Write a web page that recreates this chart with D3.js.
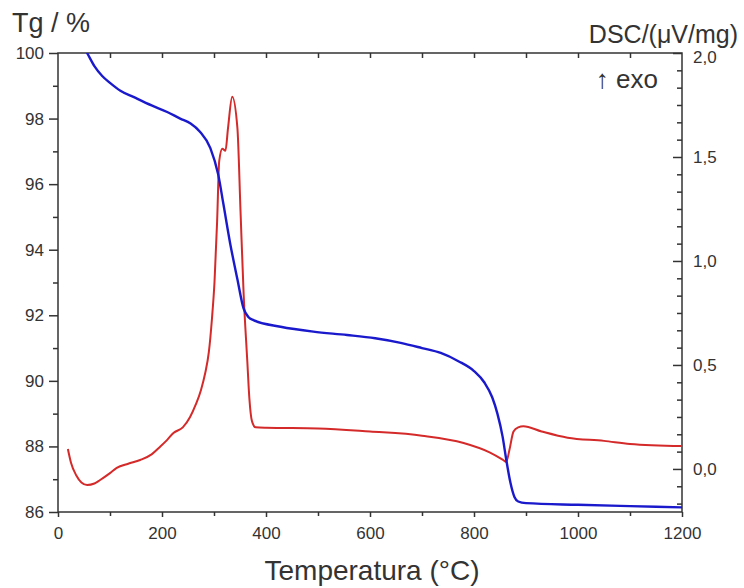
<!DOCTYPE html>
<html>
<head>
<meta charset="utf-8">
<script src="https://cdn.jsdelivr.net/npm/d3@7"></script>
<style>
  body { margin: 0; background: #fff; }
  text { font-family: "Liberation Sans", Arial, sans-serif; fill: #333; }
</style>
</head>
<body>
<div id="chart"></div>
<script>
// TG curve (left axis, %)
const tgTemp = [20, 30, 45, 56, 70, 85, 100, 120, 145, 180, 210, 235, 255, 273, 293, 308, 318, 331, 345, 357, 366, 376, 428, 491, 556, 610, 659, 700, 736, 770, 800, 820, 835, 845, 855, 862, 870, 878, 885, 900, 1000, 1100, 1200]
const tgVal = [100.9, 100.6, 100.3, 100.0, 99.6, 99.3, 99.09, 98.85, 98.66, 98.4, 98.2, 98.0, 97.85, 97.6, 97.1, 96.3, 95.4, 94.2, 93.1, 92.2, 91.95, 91.85, 91.65, 91.5, 91.4, 91.3, 91.16, 91.0, 90.85, 90.6, 90.3, 89.95, 89.5, 89.0, 88.3, 87.6, 86.9, 86.45, 86.32, 86.27, 86.22, 86.18, 86.14]

// DSC curve (right axis, µV/mg)
const dscTemp = [19, 25, 35, 45, 56, 70, 81, 100, 113, 135, 158, 180, 196, 210, 222, 240, 254, 265, 275, 283, 290, 296, 301, 306, 310, 316, 322, 327, 335, 345, 351, 357, 364, 368, 373, 380, 400, 500, 600, 700, 780, 830, 855, 862, 868, 876, 885, 895, 930, 980, 1050, 1100, 1200]
const dscVal = [0.096, 0.03, -0.03, -0.065, -0.077, -0.07, -0.053, -0.02, 0.005, 0.025, 0.043, 0.07, 0.106, 0.14, 0.173, 0.2, 0.25, 0.31, 0.38, 0.46, 0.56, 0.72, 0.9, 1.19, 1.48, 1.54, 1.53, 1.64, 1.79, 1.64, 1.24, 0.84, 0.52, 0.34, 0.23, 0.2, 0.198, 0.195, 0.18, 0.16, 0.125, 0.08, 0.045, 0.034, 0.09, 0.18, 0.2, 0.205, 0.18, 0.15, 0.135, 0.12, 0.11]

const xTicks = [0, 200, 400, 600, 800, 1000, 1200]
const leftTicks = [86, 88, 90, 92, 94, 96, 98, 100]
const rightTicks = [0.0, 0.5, 1.0, 1.5, 2.0]

const width = 744, height = 588
const margin = {top: 53, right: 62, bottom: 76, left: 58}

const svg = d3.select("#chart").append("svg")
    .attr("width", width)
    .attr("height", height)

const x = d3.scaleLinear().domain([0, 1200]).range([margin.left, width - margin.right])
const yL = d3.scaleLinear().domain([86, 100]).range([height - margin.bottom, margin.top])
const yR = d3.scaleLinear().domain([-0.207, 2.0]).range([height - margin.bottom, margin.top])

svg.append("clipPath").attr("id", "clip")
    .append("rect")
    .attr("x", margin.left).attr("y", margin.top)
    .attr("width", width - margin.left - margin.right)
    .attr("height", height - margin.top - margin.bottom)

const fmtComma = d => d3.format(".1f")(d).replace(".", ",")
const axisColor = "#333"

function styleAxis(g) {
    g.select(".domain").remove()
    g.selectAll("line").attr("stroke", axisColor).attr("stroke-width", 1.5)
    g.selectAll("text").style("font-size", "17px").attr("fill", "#333")
}

// minor ticks
const xMinor = d3.range(100, 1200, 200)
const leftMinor = d3.range(87, 100, 2)
const rightMinor = d3.range(-2, 24).map(i => i / 12).filter(v => v >= -0.207 && v <= 2.0 && Math.abs(v * 2 - Math.round(v * 2)) > 1e-6)

// bottom axis (outward ticks)
svg.append("g").attr("transform", `translate(0,${height - margin.bottom})`)
    .call(d3.axisBottom(x).tickValues(xTicks).tickSize(5).tickPadding(10).tickFormat(d3.format("d")))
    .call(styleAxis)
svg.append("g").attr("transform", `translate(0,${height - margin.bottom})`)
    .call(d3.axisBottom(x).tickValues(xMinor).tickSize(4).tickFormat(""))
    .call(styleAxis)

// top axis (inward ticks)
svg.append("g").attr("transform", `translate(0,${margin.top})`)
    .call(d3.axisBottom(x).tickValues(d3.range(100, 1200, 100)).tickSize(5).tickFormat(""))
    .call(styleAxis)

// left axis (outward ticks)
svg.append("g").attr("transform", `translate(${margin.left},0)`)
    .call(d3.axisLeft(yL).tickValues(leftTicks).tickSize(9).tickPadding(5).tickFormat(d3.format("d")))
    .call(styleAxis)
svg.append("g").attr("transform", `translate(${margin.left},0)`)
    .call(d3.axisLeft(yL).tickValues(leftMinor).tickSize(5).tickFormat(""))
    .call(styleAxis)

// right axis (inward ticks)
svg.append("g").attr("transform", `translate(${width - margin.right},0)`)
    .call(d3.axisLeft(yR).tickValues(rightTicks).tickSize(9).tickFormat(""))
    .call(styleAxis)
svg.append("g").attr("transform", `translate(${width - margin.right},0)`)
    .call(d3.axisLeft(yR).tickValues(rightMinor).tickSize(5).tickFormat(""))
    .call(styleAxis)
svg.append("g").selectAll("text")
    .data(rightTicks)
    .enter()
    .append("text")
    .attr("x", width - margin.right + 11)
    .attr("y", d => yR(d) + (d === 2.0 ? 4 : 0))
    .attr("dy", "0.35em")
    .style("font-size", "17px")
    .text(fmtComma)

// frame
svg.append("rect")
    .attr("x", margin.left).attr("y", margin.top)
    .attr("width", width - margin.left - margin.right)
    .attr("height", height - margin.top - margin.bottom)
    .attr("fill", "none").attr("stroke", axisColor).attr("stroke-width", 1.5)

// curves
const tgLine = d3.line()
    .x(d => x(d[0])).y(d => yL(d[1]))
    .curve(d3.curveMonotoneX)
const dscLine = d3.line()
    .x(d => x(d[0])).y(d => yR(d[1]))
    .curve(d3.curveMonotoneX)

const plot = svg.append("g").attr("clip-path", "url(#clip)")
plot.append("path")
    .datum(dscTemp.map((t, i) => [t, dscVal[i]]))
    .attr("d", dscLine)
    .attr("fill", "none").attr("stroke", "#d42a2a").attr("stroke-width", 2)
plot.append("path")
    .datum(tgTemp.map((t, i) => [t, tgVal[i]]))
    .attr("d", tgLine)
    .attr("fill", "none").attr("stroke", "#1a1acc").attr("stroke-width", 2.4)

// titles
svg.append("text").attr("x", 12).attr("y", 32)
    .style("font-size", "27px").text("Tg / %")
svg.append("text").attr("x", 738).attr("y", 43)
    .attr("text-anchor", "end")
    .style("font-size", "25px").text("DSC/(\u03bcV/mg)")
svg.append("text").attr("x", 658).attr("y", 88)
    .attr("text-anchor", "end")
    .style("font-size", "26px").text("\u2191 exo")
svg.append("text").attr("x", 372).attr("y", 580)
    .attr("text-anchor", "middle")
    .style("font-size", "28px").text("Temperatura (\u00b0C)")
</script>
</body>
</html>
